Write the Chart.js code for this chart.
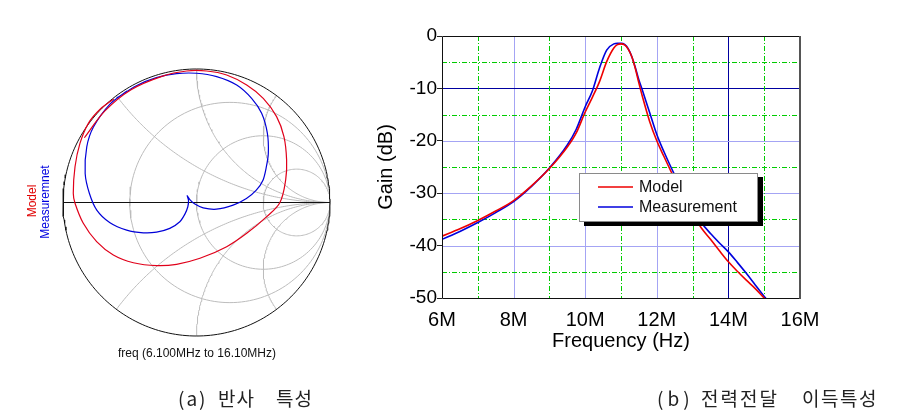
<!DOCTYPE html>
<html>
<head>
<meta charset="utf-8">
<script src="https://cdn.jsdelivr.net/npm/chart.js@4.4.1/dist/chart.umd.min.js"></script>
<style>
  body { margin: 0; background: #fff; }
  #wrap { position: relative; width: 899px; height: 417px; background: #fff; overflow: hidden; }
  canvas { position: absolute; top: 0; }
  .lbl { position: absolute; font-family: "Liberation Sans", Arial, sans-serif; white-space: nowrap; line-height: 1; transform: translate(-50%, -50%); }
  .vert { transform: translate(-50%, -50%) rotate(-90deg); }
  .cap { position: absolute; top: 388px; font-family: "Noto Sans CJK KR", sans-serif; font-size: 19px; color: #222; white-space: pre; line-height: 19px; letter-spacing: 1px; }
</style>
</head>
<body>
<div id="wrap">
  <canvas id="smith" width="340" height="417" style="left:0"></canvas>
  <canvas id="gain" width="559" height="417" style="left:340px"></canvas>
  <div class="lbl vert" style="left:32px;top:201px;font-size:12px;color:#e00000">Model</div>
  <div class="lbl vert" style="left:45px;top:202px;font-size:12px;color:#0000e0">Measuremnet</div>
  <div class="lbl" style="left:197px;top:353px;font-size:12px;color:#111">freq (6.100MHz to 16.10MHz)</div>
  <span class="cap" style="left:178px;letter-spacing:2px">(a)</span>
  <span class="cap" style="left:218px">반사</span>
  <span class="cap" style="left:276px">특성</span>
  <span class="cap" style="left:657px;letter-spacing:4px">(b)</span>
  <span class="cap" style="left:701px;letter-spacing:2px">전력전달</span>
  <span class="cap" style="left:802px;letter-spacing:1.5px">이득특성</span>
</div>
<script>
// ---- (a) reflection, Smith chart (Gamma real / imag) ----
const resistanceCircles = [1 / 3, 1, 3];
const reactanceArcs = [0.5, 1, 2];

const modelRe = [-0.84, -0.686, -0.49, -0.254, -0.074, 0.076, 0.226, 0.376, 0.5, 0.6, 0.655, 0.675, 0.668, 0.625, 0.526, 0.376, 0.226, 0.026, -0.149, -0.298, -0.473, -0.623, -0.748, -0.848, -0.91, -0.923, -0.91, -0.873, -0.81, -0.72, -0.62];
const modelIm = [0.485, 0.686, 0.845, 0.947, 0.985, 0.985, 0.955, 0.88, 0.78, 0.643, 0.493, 0.318, 0.169, 0, -0.106, -0.231, -0.331, -0.418, -0.463, -0.473, -0.451, -0.393, -0.293, -0.156, -0.006, 0.069, 0.268, 0.443, 0.593, 0.7, 0.775];

const measRe = [-0.6, -0.45, -0.3, -0.15, 0.0, 0.151, 0.301, 0.413, 0.488, 0.531, 0.538, 0.523, 0.498, 0.448, 0.374, 0.274, 0.149, 0.05, -0.012, -0.05, -0.07, -0.06, -0.065, -0.087, -0.125, -0.2, -0.299, -0.398, -0.523, -0.648, -0.747, -0.802, -0.834, -0.822, -0.772, -0.648, -0.52];
const measIm = [0.78, 0.875, 0.935, 0.965, 0.968, 0.943, 0.88, 0.78, 0.668, 0.518, 0.368, 0.266, 0.167, 0.092, 0.03, -0.02, -0.05, -0.04, -0.012, 0.022, 0.052, 0.017, -0.032, -0.087, -0.144, -0.194, -0.222, -0.227, -0.207, -0.152, -0.057, 0.067, 0.217, 0.416, 0.565, 0.737, 0.835];

// ---- (b) gain vs frequency ----
const freqMHz   = [6.0, 6.5, 7.0, 7.5, 8.0, 8.5, 9.0, 9.5, 9.75, 10.0, 10.2, 10.4, 10.6, 10.8, 10.9, 11.0, 11.1, 11.2, 11.3, 11.4, 11.5, 11.6, 11.8, 12.0, 12.2, 12.4, 12.6, 12.8, 13.0, 13.25, 13.5, 13.75, 14.0, 14.25, 14.5, 14.75, 15.0, 15.05];
const modelGain = [-38.2, -36.8, -35.2, -33.4, -31.4, -28.6, -25.3, -21.2, -18.5, -14.5, -11.7, -8.7, -4.9, -2.3, -1.65, -1.5, -1.7, -2.5, -3.9, -6.2, -9.0, -11.6, -16.3, -20.0, -23.0, -25.9, -28.7, -31.5, -34.0, -36.7, -38.8, -41.0, -43.1, -44.9, -46.6, -48.2, -50.0, -50.3];
const measGain  = [-38.8, -37.3, -35.6, -33.7, -31.6, -28.7, -25.2, -20.8, -17.8, -13.5, -10.5, -6.1, -2.7, -1.5, -1.4, -1.4, -1.6, -2.4, -3.9, -6.0, -8.4, -10.4, -14.6, -18.8, -22.1, -25.1, -27.9, -30.6, -33.1, -35.7, -37.7, -39.5, -41.2, -43.2, -45.3, -47.5, -49.7, -50.1];
const seriesNames = ['Model', 'Measurement'];

function toPts(xs, ys) {
  return xs.map(function (v, i) { return {x: v, y: ys[i]}; });
}

function arc(cx, cy, rad, a0, a1, n) {
  var pts = [];
  for (var i = 0; i <= n; i++) {
    var a = a0 + (a1 - a0) * i / n;
    pts.push({x: cx + rad * Math.cos(a), y: cy + rad * Math.sin(a)});
  }
  return pts;
}

function gridLine(pts, color) {
  return {data: pts, showLine: true, borderColor: color, borderWidth: 1, pointRadius: 0, tension: 0, clip: 4};
}

var smithSets = [
  {data: toPts(modelRe, modelIm), showLine: true, borderColor: '#e0001a', borderWidth: 1.2, pointRadius: 0, tension: 0.35, clip: 4},
  {data: toPts(measRe, measIm), showLine: true, borderColor: '#0000d8', borderWidth: 1.2, pointRadius: 0, tension: 0.3, clip: 4},
  gridLine(arc(0, 0, 1, 0, 2 * Math.PI, 240), '#111'),
  gridLine([{x: -1, y: 0}, {x: 1, y: 0}], '#111')
];

resistanceCircles.forEach(function (r) {
  smithSets.push(gridLine(arc(r / (1 + r), 0, 1 / (1 + r), 0, 2 * Math.PI, 160), '#bcbcbc'));
});
reactanceArcs.forEach(function (xv) {
  var ex = (xv * xv - 1) / (xv * xv + 1), ey = 2 * xv / (xv * xv + 1);
  var end = Math.atan2(ey - 1 / xv, ex - 1);
  if (end > -Math.PI / 2) end -= 2 * Math.PI;
  var up = arc(1, 1 / xv, 1 / xv, end, -Math.PI / 2, 120);
  smithSets.push(gridLine(up, '#bcbcbc'));
  smithSets.push(gridLine(up.map(function (p) { return {x: p.x, y: -p.y}; }), '#bcbcbc'));
});

new Chart(document.getElementById('smith'), {
  type: 'scatter',
  data: {datasets: smithSets},
  options: {
    responsive: false,
    animation: false,
    layout: {padding: {left: 63, right: 10, top: 69, bottom: 81}},
    scales: {
      x: {type: 'linear', min: -1, max: 1, display: false},
      y: {type: 'linear', min: -1, max: 1, display: false}
    },
    plugins: {legend: {display: false}, tooltip: {enabled: false}}
  }
});

// dash-dot line made of small filled pieces: 5 on, 2 off, 1 on, 2 off
function dashDot(ctx, fixed, from, to, vertical) {
  var pattern = [5, 2, 1, 2], k = 0, p = from;
  while (p < to) {
    var len = Math.min(pattern[k % 4], to - p);
    if (k % 2 === 0) {
      if (vertical) ctx.fillRect(fixed, p, 1, len); else ctx.fillRect(p, fixed, len, 1);
    }
    p += pattern[k % 4];
    k++;
  }
}

// grid, frame and boxed legend for the gain plot
var gainDecor = {
  id: 'gainDecor',
  beforeDatasetsDraw: function (chart) {
    var ctx = chart.ctx, a = chart.chartArea, x = chart.scales.x, y = chart.scales.y;
    var f, v, px, py;
    ctx.save();
    ctx.lineWidth = 1;
    for (f = 8; f < 16; f += 2) {
      px = Math.round(x.getPixelForValue(f)) + 0.5;
      ctx.strokeStyle = f === 14 ? '#0000a0' : '#a4a4f4';
      ctx.beginPath(); ctx.moveTo(px, a.top); ctx.lineTo(px, a.bottom); ctx.stroke();
    }
    for (v = -40; v < 0; v += 10) {
      py = Math.round(y.getPixelForValue(v)) + 0.5;
      ctx.strokeStyle = v === -10 ? '#0000a0' : '#a4a4f4';
      ctx.beginPath(); ctx.moveTo(a.left, py); ctx.lineTo(a.right, py); ctx.stroke();
    }
    ctx.fillStyle = 'rgb(0, 204, 0)';
    for (f = 7; f < 16; f += 2) {
      dashDot(ctx, Math.round(x.getPixelForValue(f)), a.top, a.bottom, true);
    }
    for (v = -45; v < 0; v += 10) {
      dashDot(ctx, Math.round(y.getPixelForValue(v)), a.left, a.right, false);
    }
    ctx.restore();
  },
  afterDatasetsDraw: function (chart) {
    var ctx = chart.ctx, a = chart.chartArea;
    ctx.save();
    ctx.strokeStyle = '#111';
    ctx.lineWidth = 1;
    ctx.beginPath();
    ctx.moveTo(a.right, a.top + 0.5); ctx.lineTo(a.left + 0.5, a.top + 0.5); ctx.lineTo(a.left + 0.5, a.bottom + 0.5); ctx.lineTo(a.right, a.bottom + 0.5);
    ctx.stroke();
    ctx.strokeStyle = '#555';
    ctx.lineWidth = 2;
    ctx.beginPath(); ctx.moveTo(a.right, a.top); ctx.lineTo(a.right, a.bottom + 1); ctx.stroke();

    // legend box with drop shadow
    var bx = a.left + 137, by = a.top + 137, bw = 179, bh = 49;
    ctx.fillStyle = '#000';
    ctx.fillRect(bx + 5, by + 4, bw, bh);
    ctx.fillStyle = '#fff';
    ctx.fillRect(bx, by, bw, bh);
    ctx.strokeStyle = '#8a8a8a';
    ctx.lineWidth = 1;
    ctx.strokeRect(bx + 0.5, by + 0.5, bw - 1, bh - 1);
    ctx.font = '16px "Liberation Sans", Arial, sans-serif';
    ctx.textBaseline = 'middle';
    chart.data.datasets.forEach(function (ds, i) {
      var ly = by + 14 + i * 20;
      ctx.strokeStyle = ds.borderColor;
      ctx.lineWidth = 1.5;
      ctx.beginPath(); ctx.moveTo(bx + 19, ly); ctx.lineTo(bx + 54, ly); ctx.stroke();
      ctx.fillStyle = '#111';
      ctx.fillText(ds.label, bx + 60, ly + 1);
    });
    ctx.restore();
  }
};

new Chart(document.getElementById('gain'), {
  type: 'line',
  data: {
    datasets: [
      {label: seriesNames[0], data: toPts(freqMHz, modelGain), borderColor: '#ee0000', borderWidth: 1.6, pointRadius: 0, cubicInterpolationMode: 'monotone'},
      {label: seriesNames[1], data: toPts(freqMHz, measGain), borderColor: '#0000dd', borderWidth: 1.6, pointRadius: 0, cubicInterpolationMode: 'monotone'}
    ]
  },
  options: {
    responsive: false,
    animation: false,
    layout: {padding: {left: 32, right: 99, top: 36, bottom: 59}},
    scales: {
      x: {
        type: 'linear', min: 6, max: 16,
        afterFit: function (s) { s.height = 60; },
        grid: {display: false},
        border: {display: false},
        ticks: {stepSize: 2, padding: 2, color: '#000', font: {family: '"Liberation Sans", Arial', size: 20},
          callback: function (v) { return v + 'M'; }},
        title: {display: true, text: 'Frequency (Hz)', color: '#000', padding: {top: 0, bottom: 5},
          font: {family: '"Liberation Sans", Arial', size: 20}}
      },
      y: {
        type: 'linear', min: -50, max: 0,
        afterFit: function (s) { s.width = 70; },
        grid: {drawOnChartArea: false, drawTicks: true, tickLength: 5, color: '#222'},
        border: {display: false},
        ticks: {stepSize: 10, padding: 0, color: '#000', font: {family: '"Liberation Sans", Arial', size: 19}},
        title: {display: true, text: 'Gain (dB)', color: '#000', padding: {top: 2, bottom: 0},
          font: {family: '"Liberation Sans", Arial', size: 20}}
      }
    },
    plugins: {legend: {display: false}, tooltip: {enabled: false}}
  },
  plugins: [gainDecor]
});
</script>
</body>
</html>
